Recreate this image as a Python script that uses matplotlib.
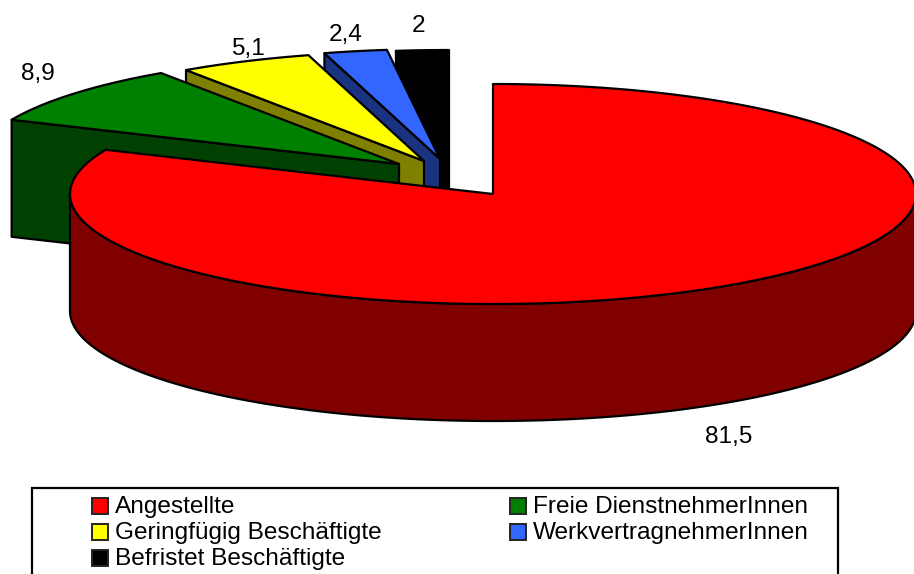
import numpy as np
import matplotlib
matplotlib.use("Agg")
import matplotlib.pyplot as plt
from matplotlib.patches import Polygon, Rectangle

plt.rcParams['font.family'] = ['Liberation Sans', 'DejaVu Sans']

categories = ["Angestellte", "Freie DienstnehmerInnen", "Geringfügig Beschäftigte",
              "WerkvertragnehmerInnen", "Befristet Beschäftigte"]
values = [81.5, 8.9, 5.1, 2.4, 2.0]
value_labels = ["81,5", "8,9", "5,1", "2,4", "2"]

top_colors = ["#ff0000", "#008000", "#ffff00", "#3366ff", "#000000"]
side_colors = ["#800000", "#004000", "#808000", "#1a3380", "#000000"]
offsets = [(0, 0), (-94, -30), (-69, -33), (-53, -35), (-44, -34)]
label_pos = [(729, 443), (38, 80), (248, 55), (346, 41), (419, 32)]
legend_pos = [(92, 513), (510, 513), (92, 539), (510, 539), (92, 565)]

W, H = 914, 574
CX, CY, RX, RY, DEPTH = 493, 194, 423, 110, 117
LW = 1.6
FS = 17.6

fig = plt.figure(figsize=(W / 100, H / 100), dpi=100)
ax = fig.add_axes([0, 0, 1, 1])
ax.set_xlim(0, W)
ax.set_ylim(H, 0)
ax.axis("off")


def rim(deg, off=(0, 0)):
    """Clockwise angle from 12 o'clock onto the flattened pie ellipse."""
    t = np.radians(deg)
    return np.column_stack([CX + off[0] + RX * np.sin(t), CY + off[1] - RY * np.cos(t)])


def poly(points, color, z):
    ax.add_patch(Polygon(points, closed=True, facecolor=color, edgecolor="black",
                         linewidth=LW, joinstyle="round", zorder=z))


edges = np.concatenate([[0], np.cumsum(values)]) / np.sum(values) * 360

# exploded slices, back to front: black, blue, yellow, green
for i in range(len(values) - 1, 0, -1):
    a0, a1 = edges[i], edges[i + 1]
    off = offsets[i]
    z = 10 + (len(values) - i) * 2
    apex = np.array([[CX + off[0], CY + off[1]]])
    arc = rim(np.linspace(a0, a1, 40), off)
    face = np.vstack([arc[:1], apex, apex + [0, DEPTH], arc[:1] + [0, DEPTH]])
    poly(face, side_colors[i], z)
    poly(np.vstack([apex, arc]), top_colors[i], z + 1)

# main slice
arc = rim(np.linspace(90, 270, 200))
poly(np.vstack([arc, (arc + [0, DEPTH])[::-1]]), side_colors[0], 30)
poly(np.vstack([[[CX, CY]], rim(np.linspace(edges[0], edges[1], 300))]), top_colors[0], 31)

for (x, y), s in zip(label_pos, value_labels):
    ax.text(x, y, s, fontsize=FS, ha="center", va="baseline", color="black", zorder=40)

# legend
ax.add_patch(Rectangle((32, 488), 806, 100, facecolor="white", edgecolor="black",
                       linewidth=LW, zorder=41))
for (x, y), name, c in zip(legend_pos, categories, top_colors):
    ax.add_patch(Rectangle((x, y - 15), 16, 16, facecolor=c, edgecolor="#222222",
                           linewidth=1.4, zorder=42))
    ax.text(x + 23, y, name, fontsize=FS, ha="left", va="baseline", color="black", zorder=42)

fig.savefig("out.png", dpi=100)
